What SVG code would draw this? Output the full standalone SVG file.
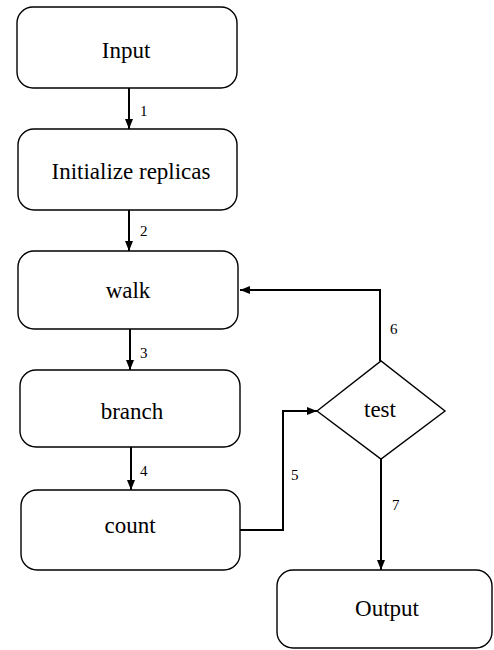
<svg xmlns="http://www.w3.org/2000/svg" width="494" height="650" viewBox="0 0 494 650">
<style>
.box{fill:#fff;stroke:#000;stroke-width:1.4}
.lbl{font-family:"Liberation Serif","Times New Roman",serif;font-size:23px;fill:#000;text-anchor:middle}
.num{font-family:"Liberation Serif","Times New Roman",serif;font-size:15px;fill:#000}
.con{fill:none;stroke:#000;stroke-width:2}
</style>
<defs>
<marker id="ah" viewBox="0 0 10 8" refX="10" refY="4" markerWidth="10" markerHeight="8" markerUnits="userSpaceOnUse" orient="auto">
<path d="M0,0 L10,4 L0,8 Z" fill="#000"/>
</marker>
</defs>
<rect width="494" height="650" fill="#fff"/>
<g id="connectors">
<line class="con" x1="129" y1="88" x2="129" y2="129" marker-end="url(#ah)"/>
<line class="con" x1="129" y1="210" x2="129" y2="251" marker-end="url(#ah)"/>
<line class="con" x1="130" y1="329" x2="130" y2="370" marker-end="url(#ah)"/>
<line class="con" x1="131" y1="447" x2="131" y2="490" marker-end="url(#ah)"/>
<polyline class="con" points="240,530 283,530 283,411 317,411" marker-end="url(#ah)"/>
<polyline class="con" points="380,361 380,290 240,290" marker-end="url(#ah)"/>
<line class="con" x1="381" y1="459" x2="381" y2="570" marker-end="url(#ah)"/>
<text class="num" x="140" y="116">1</text>
<text class="num" x="140" y="236">2</text>
<text class="num" x="140" y="358">3</text>
<text class="num" x="140" y="476">4</text>
<text class="num" x="291" y="480">5</text>
<text class="num" x="390" y="334">6</text>
<text class="num" x="392" y="510">7</text>
</g>
<g id="input">
<rect class="box" x="17" y="7" width="220" height="81" rx="16"/>
<text class="lbl" x="126" y="58">Input</text>
</g>
<g id="init">
<rect class="box" x="18" y="129" width="219" height="81" rx="16"/>
<text class="lbl" x="131" y="179">Initialize replicas</text>
</g>
<g id="walk">
<rect class="box" x="18" y="251" width="220" height="78" rx="16"/>
<text class="lbl" x="128" y="298">walk</text>
</g>
<g id="branch">
<rect class="box" x="20" y="370" width="220" height="77" rx="16"/>
<text class="lbl" x="132" y="419">branch</text>
</g>
<g id="count">
<rect class="box" x="21" y="490" width="219" height="80" rx="16"/>
<text class="lbl" x="130" y="533">count</text>
</g>
<g id="test">
<polygon class="box" points="317,411 381,361 445,411 381,459"/>
<text class="lbl" x="380" y="417">test</text>
</g>
<g id="output">
<rect class="box" x="277" y="570" width="215" height="78" rx="16"/>
<text class="lbl" x="387" y="616">Output</text>
</g>
</svg>
